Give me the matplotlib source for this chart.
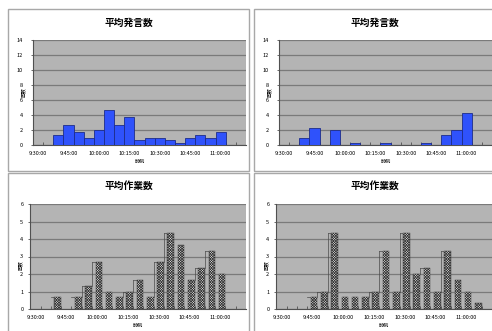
import matplotlib
matplotlib.use("Agg")
import matplotlib.pyplot as plt
from matplotlib.patches import Rectangle

plt.rcParams["font.family"] = ["Noto Sans CJK JP", "DejaVu Sans"]
plt.rcParams["hatch.linewidth"] = 0.5

# 5-minute time slots
times = ["9:30:00", "9:35:00", "9:40:00", "9:45:00", "9:50:00", "9:55:00",
         "10:00:00", "10:05:00", "10:10:00", "10:15:00", "10:20:00", "10:25:00",
         "10:30:00", "10:35:00", "10:40:00", "10:45:00", "10:50:00", "10:55:00",
         "11:00:00", "11:05:00", "11:10:00"]

# average utterances per slot (two groups)
speak_a = [0, 0, 1.33, 2.67, 1.67, 1.0, 2.0, 4.67, 2.67, 3.67, 0.67, 1.0,
           1.0, 0.67, 0.33, 1.0, 1.33, 1.0, 1.67, 0, 0]
speak_b = [0, 0, 1.0, 2.33, 0, 2.0, 0, 0.33, 0, 0, 0.33, 0,
           0, 0, 0.33, 0, 1.33, 2.0, 4.33, 0, 0]

# average operations per slot (two groups)
work_a = [0, 0, 0.67, 0, 0.67, 1.33, 2.67, 1.0, 0.67, 1.0, 1.67, 0.67,
          2.67, 4.33, 3.67, 1.67, 2.33, 3.33, 2.0, 0, 0]
work_b = [0, 0, 0, 0.67, 1.0, 4.33, 0.67, 0.67, 0.67, 1.0, 3.33, 1.0,
          4.33, 2.0, 2.33, 1.0, 3.33, 1.67, 1.0, 0.33, 0]

title_speak = "平均発言数"
title_work = "平均作業数"
xlab = "時刻"
ylab = "回数"

W, H = 492, 331
fig = plt.figure(figsize=(W / 100, H / 100), dpi=100)


def add_ax(l, t, r, b):
    return fig.add_axes([l / W, 1 - b / H, (r - l) / W, (b - t) / H])


def frame(l, t, r, b):
    fig.patches.append(Rectangle((l / W, 1 - b / H), (r - l) / W, (b - t) / H,
                                 transform=fig.transFigure, fill=False,
                                 edgecolor="#a8a8a8", lw=1.0))


def style(ax, ymax, ystep, ypad, ylab_y, title, title_pos):
    n = len(times)
    ax.set_facecolor("#b4b4b4")
    ax.set_xlim(0, n)
    ax.set_ylim(0, ymax)
    ax.set_yticks(range(0, ymax + 1, ystep))
    ax.yaxis.grid(True, color="#7a7a7a", lw=0.9)
    ax.set_axisbelow(True)
    for s in ["top", "right"]:
        ax.spines[s].set_visible(False)
    for s in ["left", "bottom"]:
        ax.spines[s].set_color("#505050")
        ax.spines[s].set_linewidth(0.8)
    ax.set_xticks([i + 0.5 for i in range(0, n, 3)])
    ax.set_xticklabels(times[::3])
    ax.set_xticks(range(1, n), minor=True)
    ax.tick_params(axis="x", which="major", length=0, pad=4, labelsize=4)
    ax.tick_params(axis="x", which="minor", direction="in", length=2.5,
                   width=0.6, color="#505050")
    ax.tick_params(axis="y", length=1.5, width=0.6, color="#505050",
                   pad=ypad, labelsize=4)
    ax.text(0.5, -0.16, xlab, transform=ax.transAxes, ha="center",
            va="center", fontsize=3.8)
    ax.text(-0.045, ylab_y, ylab, transform=ax.transAxes, ha="center",
            va="center", fontsize=3.5, rotation=90)
    fig.text(title_pos[0], title_pos[1], title, ha="center", va="center",
             fontsize=7, fontweight="bold")


def blue_bars(ax, vals):
    xs = [i for i, v in enumerate(vals) if v > 0]
    hs = [vals[i] for i in xs]
    ax.bar(xs, hs, width=1.0, align="edge", color="#2f52fb",
           edgecolor="#1d2c8a", lw=0.6, zorder=3)


def hatch_bars(ax, vals):
    xs = [i for i, v in enumerate(vals) if v > 0]
    hs = [vals[i] for i in xs]
    ax.bar([x + 0.35 for x in xs], hs, width=0.65, align="edge",
           color="#e4e4e4", edgecolor="#333333", lw=0.3,
           hatch="x" * 13, zorder=3)
    # thin step outline left of each rising bar
    prev = 0
    for i, v in enumerate(vals):
        if v > prev and v > 0:
            if prev > 0:
                ax.plot([i, i], [prev, v], color="#4a4a4a", lw=0.5, zorder=2)
            ax.plot([i, i + 0.35], [v, v], color="#4a4a4a", lw=0.5, zorder=2)
        prev = v


frame(8, 9, 249, 171)
frame(254, 9, 495, 171)
frame(8, 173, 249, 335)
frame(254, 173, 495, 335)

ax1 = add_ax(33, 40, 246, 145)
blue_bars(ax1, speak_a)
style(ax1, 14, 2, 6, 0.5, title_speak, ((8 + 249) / 2 / W, 1 - 23 / H))

ax2 = add_ax(279, 40, 492, 145)
blue_bars(ax2, speak_b)
style(ax2, 14, 2, 6, 0.5, title_speak, ((254 + 495) / 2 / W, 1 - 23 / H))

ax3 = add_ax(30.3, 204, 246, 309)
hatch_bars(ax3, work_a)
style(ax3, 6, 1, 3.5, 0.42, title_work, ((8 + 249) / 2 / W, 1 - 186 / H))

ax4 = add_ax(276.3, 204, 492, 309)
hatch_bars(ax4, work_b)
style(ax4, 6, 1, 3.5, 0.42, title_work, ((254 + 495) / 2 / W, 1 - 186 / H))

plt.savefig("out.png", dpi=100)
